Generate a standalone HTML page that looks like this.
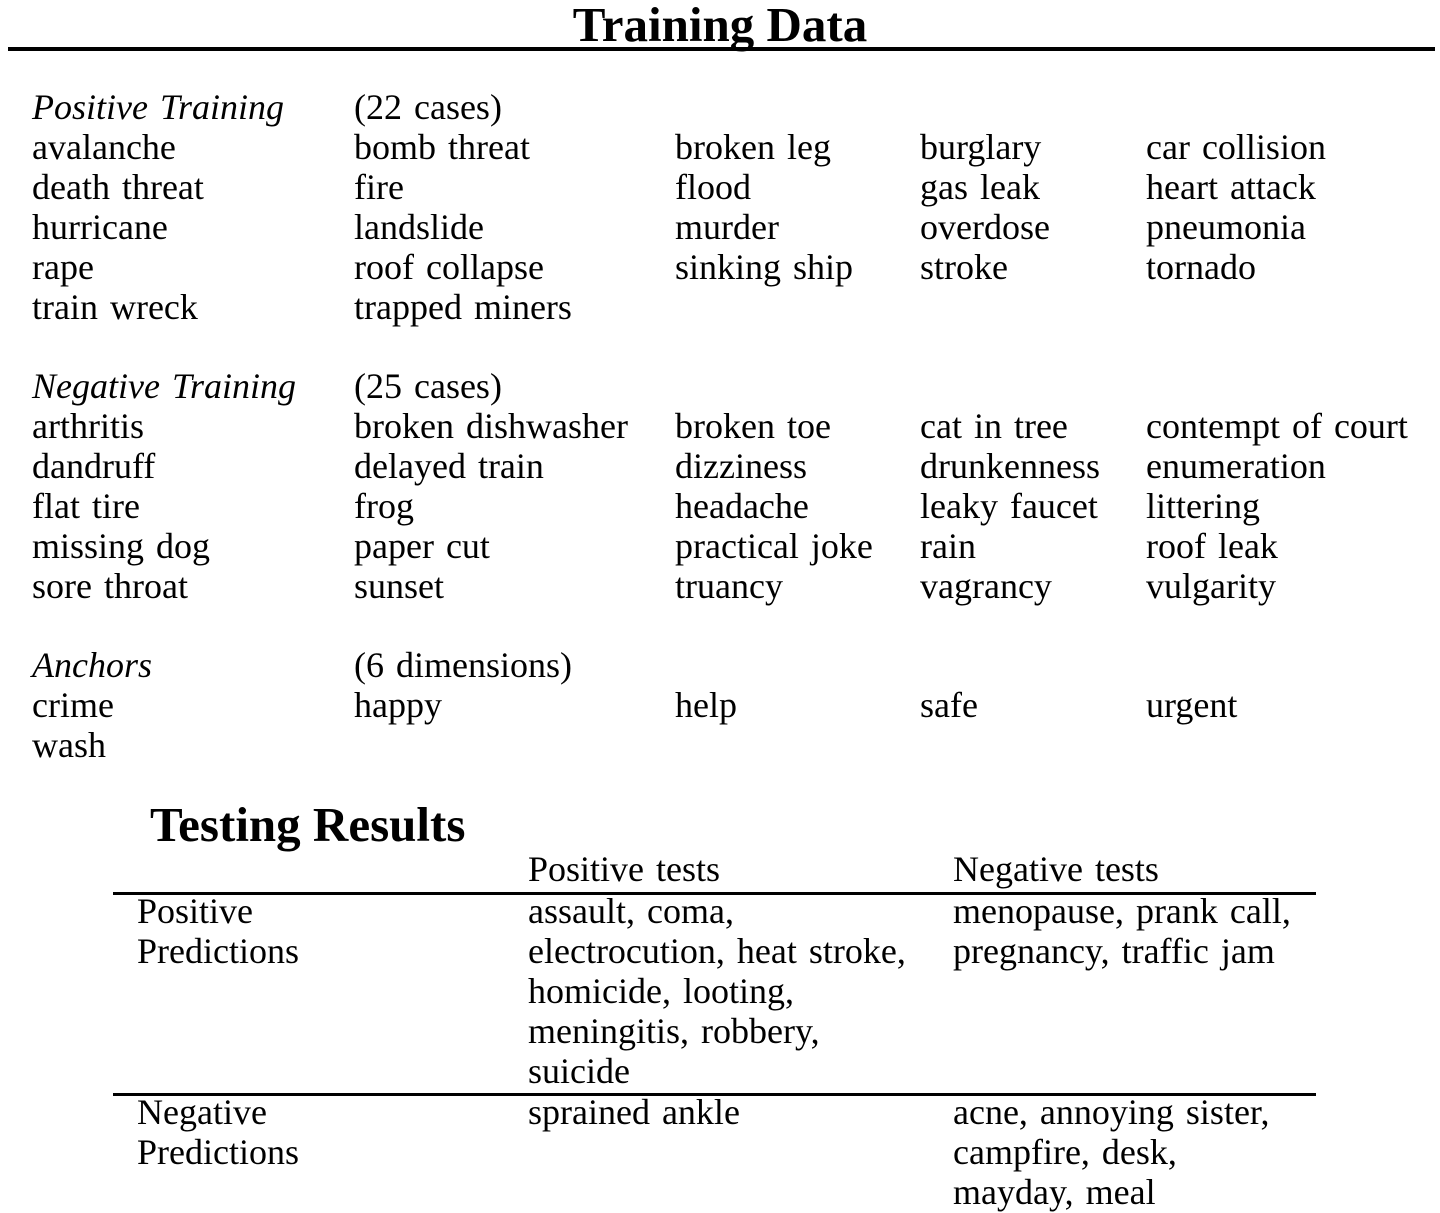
<!DOCTYPE html>
<html><head><meta charset="utf-8"><style>
body{margin:0;width:1440px;height:1213px;background:#fff;position:relative;overflow:hidden;font-family:"Liberation Serif",serif;color:#000}
.t{position:absolute;font-size:36px;line-height:36px;white-space:nowrap;word-spacing:3px}
.i{font-style:italic}
.h{position:absolute;font-weight:bold;font-size:49px;line-height:49px;white-space:nowrap}
.l{position:absolute;background:#000}
</style></head><body>
<div class="h" style="left:0;width:1440px;text-align:center;top:0px">Training Data</div>
<div class="l" style="left:8px;width:1427px;top:47px;height:4px"></div>

<div class="t i" style="left:32px;top:89px">Positive Training</div>
<div class="t" style="left:354px;top:89px">(22 cases)</div>

<div class="t" style="left:32px;top:129px">avalanche</div><div class="t" style="left:354px;top:129px">bomb threat</div><div class="t" style="left:675px;top:129px">broken leg</div><div class="t" style="left:920px;top:129px">burglary</div><div class="t" style="left:1146px;top:129px">car collision</div>
<div class="t" style="left:32px;top:169px">death threat</div><div class="t" style="left:354px;top:169px">fire</div><div class="t" style="left:675px;top:169px">flood</div><div class="t" style="left:920px;top:169px">gas leak</div><div class="t" style="left:1146px;top:169px">heart attack</div>
<div class="t" style="left:32px;top:209px">hurricane</div><div class="t" style="left:354px;top:209px">landslide</div><div class="t" style="left:675px;top:209px">murder</div><div class="t" style="left:920px;top:209px">overdose</div><div class="t" style="left:1146px;top:209px">pneumonia</div>
<div class="t" style="left:32px;top:249px">rape</div><div class="t" style="left:354px;top:249px">roof collapse</div><div class="t" style="left:675px;top:249px">sinking ship</div><div class="t" style="left:920px;top:249px">stroke</div><div class="t" style="left:1146px;top:249px">tornado</div>
<div class="t" style="left:32px;top:289px">train wreck</div><div class="t" style="left:354px;top:289px">trapped miners</div>

<div class="t i" style="left:32px;top:368px">Negative Training</div>
<div class="t" style="left:354px;top:368px">(25 cases)</div>
<div class="t" style="left:32px;top:408px">arthritis</div><div class="t" style="left:354px;top:408px">broken dishwasher</div><div class="t" style="left:675px;top:408px">broken toe</div><div class="t" style="left:920px;top:408px">cat in tree</div><div class="t" style="left:1146px;top:408px">contempt of court</div>
<div class="t" style="left:32px;top:448px">dandruff</div><div class="t" style="left:354px;top:448px">delayed train</div><div class="t" style="left:675px;top:448px">dizziness</div><div class="t" style="left:920px;top:448px">drunkenness</div><div class="t" style="left:1146px;top:448px">enumeration</div>
<div class="t" style="left:32px;top:488px">flat tire</div><div class="t" style="left:354px;top:488px">frog</div><div class="t" style="left:675px;top:488px">headache</div><div class="t" style="left:920px;top:488px">leaky faucet</div><div class="t" style="left:1146px;top:488px">littering</div>
<div class="t" style="left:32px;top:528px">missing dog</div><div class="t" style="left:354px;top:528px">paper cut</div><div class="t" style="left:675px;top:528px">practical joke</div><div class="t" style="left:920px;top:528px">rain</div><div class="t" style="left:1146px;top:528px">roof leak</div>
<div class="t" style="left:32px;top:568px">sore throat</div><div class="t" style="left:354px;top:568px">sunset</div><div class="t" style="left:675px;top:568px">truancy</div><div class="t" style="left:920px;top:568px">vagrancy</div><div class="t" style="left:1146px;top:568px">vulgarity</div>

<div class="t i" style="left:32px;top:647px">Anchors</div>
<div class="t" style="left:354px;top:647px">(6 dimensions)</div>
<div class="t" style="left:32px;top:687px">crime</div><div class="t" style="left:354px;top:687px">happy</div><div class="t" style="left:675px;top:687px">help</div><div class="t" style="left:920px;top:687px">safe</div><div class="t" style="left:1146px;top:687px">urgent</div>
<div class="t" style="left:32px;top:727px">wash</div>

<div class="h" style="left:150px;top:800px">Testing Results</div>
<div class="t" style="left:528px;top:851px">Positive tests</div>
<div class="t" style="left:953px;top:851px">Negative tests</div>
<div class="l" style="left:113px;width:1203px;top:892px;height:3px"></div>
<div class="t" style="left:137px;top:891px;line-height:40px">Positive<br>Predictions</div>
<div class="t" style="left:528px;top:891px;line-height:40px">assault, coma,<br>electrocution, heat stroke,<br>homicide, looting,<br>meningitis, robbery,<br>suicide</div>
<div class="t" style="left:953px;top:891px;line-height:40px">menopause, prank call,<br>pregnancy, traffic jam</div>
<div class="l" style="left:113px;width:1203px;top:1093px;height:3px"></div>
<div class="t" style="left:137px;top:1092px;line-height:40px">Negative<br>Predictions</div>
<div class="t" style="left:528px;top:1092px;line-height:40px">sprained ankle</div>
<div class="t" style="left:953px;top:1092px;line-height:40px">acne, annoying sister,<br>campfire, desk,<br>mayday, meal</div>
</body></html>
